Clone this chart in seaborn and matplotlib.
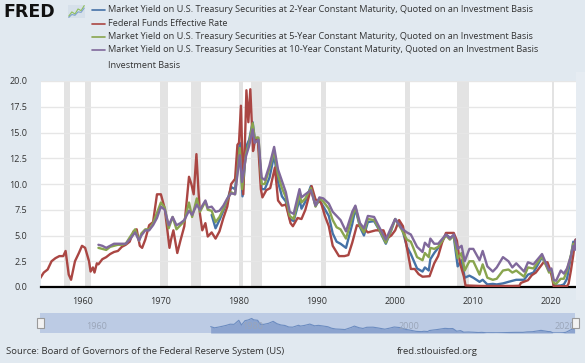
import numpy as np
import pandas as pd
import matplotlib
matplotlib.use("Agg")
import matplotlib.pyplot as plt
from matplotlib.patches import Rectangle
import seaborn as sns

# -- Data (fractional years, percent) ---------------------------
ff_years = [1954.5, 1955.0, 1955.5, 1956.0, 1956.5, 1957.0, 1957.5, 1957.8, 1958.2, 1958.5,
            1959.0, 1959.5, 1959.9, 1960.3, 1960.8, 1961.0, 1961.3, 1961.5, 1961.8, 1962.0,
            1962.5, 1963.0, 1963.5, 1964.0, 1964.5, 1965.0, 1965.5, 1966.0, 1966.5, 1966.9,
            1967.3, 1967.6, 1968.0, 1968.5, 1969.0, 1969.5, 1970.0, 1970.5, 1971.1, 1971.3,
            1971.6, 1972.1, 1972.5, 1973.0, 1973.6, 1973.9, 1974.2, 1974.55, 1974.8, 1975.0,
            1975.3, 1975.7, 1976.0, 1976.5, 1977.0, 1977.5, 1978.0, 1978.5, 1979.0, 1979.5,
            1979.8, 1980.0, 1980.25, 1980.55, 1980.8, 1980.95, 1981.2, 1981.45, 1981.8, 1982.0,
            1982.4, 1982.8, 1983.0, 1983.5, 1984.0, 1984.6, 1985.0, 1985.5, 1986.0, 1986.6,
            1986.9, 1987.5, 1988.0, 1988.5, 1989.3, 1989.8, 1990.5, 1991.0, 1991.5, 1992.0,
            1992.8, 1993.5, 1994.0, 1994.5, 1995.1, 1995.8, 1996.5, 1997.5, 1998.5, 1998.9,
            1999.5, 2000.0, 2000.5, 2001.0, 2001.5, 2002.0, 2002.5, 2003.0, 2003.5, 2004.4,
            2005.0, 2005.5, 2006.0, 2006.5, 2007.5, 2007.9, 2008.3, 2008.8, 2009.0, 2011.0,
            2013.0, 2015.0, 2015.9, 2016.1, 2017.0, 2017.5, 2018.0, 2018.5, 2019.0, 2019.5,
            2019.9, 2020.15, 2020.3, 2021.0, 2022.0, 2022.2, 2022.5, 2022.8, 2023.0, 2023.1]
ff_vals = [0.8, 1.4, 1.7, 2.5, 2.8, 3.0, 3.0, 3.5, 1.2, 0.7,
           2.5, 3.3, 4.0, 3.8, 2.5, 1.5, 1.9, 1.4, 2.3, 2.2,
           2.7, 2.9, 3.2, 3.4, 3.5, 3.9, 4.1, 4.4, 5.4, 5.6,
           4.0, 3.8, 4.6, 6.0, 6.3, 9.0, 9.0, 7.6, 3.8, 4.6,
           5.5, 3.3, 4.5, 5.9, 10.7, 10.0, 9.0, 12.9, 9.5, 7.1,
           5.5, 6.2, 4.9, 5.3, 4.7, 5.4, 6.7, 7.8, 10.0, 10.5,
           13.8, 14.0, 17.6, 9.0, 15.0, 19.1, 16.0, 19.2, 13.2, 14.0,
           14.5, 9.5, 8.7, 9.4, 9.6, 11.6, 8.4, 7.9, 8.0, 6.2,
           5.9, 6.7, 6.6, 7.5, 9.8, 8.5, 8.2, 6.9, 5.9, 4.0,
           3.0, 3.0, 3.1, 4.3, 6.0, 5.8, 5.3, 5.5, 5.5, 4.7,
           5.0, 5.5, 6.5, 5.9, 3.8, 1.75, 1.75, 1.25, 1.0, 1.05,
           2.3, 3.0, 4.3, 5.25, 5.25, 4.5, 2.3, 1.0, 0.15, 0.1,
           0.1, 0.1, 0.12, 0.4, 0.66, 1.15, 1.4, 1.9, 2.4, 2.4,
           1.55, 0.65, 0.05, 0.08, 0.08, 0.33, 1.6, 3.1, 4.3, 4.6]

t10_years = [1962.0, 1962.5, 1963.0, 1963.5, 1964.0, 1964.5, 1965.0, 1965.5, 1966.0, 1966.7,
             1967.2, 1967.5, 1968.0, 1968.5, 1969.0, 1969.5, 1970.0, 1970.5, 1971.0, 1971.5,
             1972.0, 1972.5, 1973.0, 1973.6, 1974.0, 1974.6, 1975.0, 1975.7, 1976.0, 1976.5,
             1977.0, 1977.5, 1978.0, 1978.5, 1979.0, 1979.5, 1980.1, 1980.4, 1980.9, 1981.3,
             1981.75, 1982.0, 1982.5, 1982.9, 1983.3, 1983.9, 1984.5, 1985.0, 1985.5, 1986.0,
             1986.5, 1987.0, 1987.75, 1988.0, 1988.5, 1989.2, 1989.8, 1990.3, 1990.8, 1991.5,
             1992.0, 1992.5, 1993.0, 1993.7, 1994.5, 1994.9, 1995.5, 1996.0, 1996.5, 1997.3,
             1997.9, 1998.8, 1999.5, 2000.0, 2000.8, 2001.5, 2002.0, 2002.8, 2003.5, 2003.8,
             2004.3, 2004.5, 2005.0, 2005.5, 2006.5, 2007.0, 2007.5, 2008.0, 2008.5, 2008.9,
             2009.5, 2010.0, 2010.8, 2011.2, 2011.8, 2012.5, 2013.0, 2013.8, 2014.5, 2015.0,
             2015.5, 2016.5, 2017.0, 2017.7, 2018.8, 2019.7, 2020.0, 2020.3, 2020.6, 2021.2,
             2021.6, 2022.0, 2022.5, 2022.8, 2023.0, 2023.1]
t10_vals = [4.1, 4.0, 3.8, 4.0, 4.2, 4.2, 4.2, 4.2, 4.6, 5.3,
            4.5, 5.0, 5.5, 5.5, 6.0, 6.7, 7.8, 7.5, 6.0, 6.8,
            6.0, 6.2, 6.5, 7.4, 7.0, 8.0, 7.5, 8.4, 7.7, 7.8,
            7.3, 7.4, 7.9, 8.6, 9.1, 9.0, 12.8, 10.2, 12.7, 13.7,
            15.3, 14.0, 14.3, 10.6, 10.4, 11.8, 13.6, 11.4, 10.3, 9.2,
            7.3, 7.1, 9.5, 8.7, 9.0, 9.4, 7.9, 8.7, 8.6, 8.1,
            7.3, 6.9, 6.5, 5.4, 7.3, 7.9, 6.2, 5.7, 6.9, 6.8,
            5.9, 4.6, 5.8, 6.6, 5.7, 5.3, 5.1, 3.9, 3.4, 4.3,
            3.9, 4.7, 4.2, 4.2, 5.1, 4.7, 5.1, 3.7, 4.0, 2.5,
            3.7, 3.7, 2.6, 3.5, 2.0, 1.5, 1.9, 2.9, 2.5, 1.9,
            2.3, 1.5, 2.4, 2.2, 3.2, 1.6, 1.8, 0.7, 0.6, 1.6,
            1.3, 1.8, 3.0, 4.0, 3.6, 4.5]

t5_years = t10_years
t5_vals = [3.8, 3.7, 3.6, 3.9, 4.0, 4.1, 4.1, 4.2, 4.8, 5.6,
           4.5, 5.2, 5.6, 5.6, 6.2, 7.2, 8.2, 7.7, 5.7, 6.8,
           5.6, 6.0, 6.4, 8.2, 6.8, 8.6, 7.3, 8.3, 7.5, 7.4,
           6.3, 6.8, 7.6, 8.5, 9.2, 9.0, 13.5, 9.5, 13.0, 14.0,
           15.9, 14.5, 14.5, 10.0, 10.0, 11.5, 13.2, 10.9, 9.6, 8.7,
           6.9, 6.6, 9.0, 8.2, 8.6, 9.6, 7.8, 8.6, 8.3, 7.6,
           6.5, 5.8, 5.6, 4.7, 6.8, 7.8, 5.9, 5.3, 6.6, 6.5,
           5.7, 4.3, 5.6, 6.6, 5.6, 4.6, 4.4, 2.9, 2.6, 3.3,
           2.9, 3.8, 3.7, 3.9, 5.0, 4.6, 5.0, 2.8, 3.3, 1.6,
           2.5, 2.5, 1.2, 2.2, 0.9, 0.7, 0.8, 1.6, 1.7, 1.4,
           1.6, 1.0, 1.9, 1.8, 3.0, 1.4, 1.6, 0.4, 0.3, 0.8,
           0.8, 1.6, 3.1, 4.2, 3.7, 4.2]

t2_years = [1976.5, 1977.0, 1977.5, 1978.0, 1978.5, 1979.0, 1979.5, 1980.1, 1980.45, 1980.9,
            1981.3, 1981.75, 1982.0, 1982.5, 1982.9, 1983.3, 1983.9, 1984.5, 1985.0, 1985.5,
            1986.0, 1986.5, 1987.0, 1987.75, 1988.0, 1988.5, 1989.2, 1989.8, 1990.3, 1990.8,
            1991.5, 1992.0, 1992.5, 1993.0, 1993.7, 1994.5, 1994.9, 1995.5, 1996.0, 1996.5,
            1997.3, 1997.9, 1998.8, 1999.5, 2000.0, 2000.8, 2001.5, 2002.0, 2002.8, 2003.5,
            2003.8, 2004.3, 2004.5, 2005.0, 2005.5, 2006.5, 2007.0, 2007.5, 2008.0, 2008.5,
            2008.9, 2009.5, 2010.0, 2010.8, 2011.2, 2011.8, 2012.5, 2013.0, 2013.8, 2014.5,
            2015.0, 2015.5, 2016.5, 2017.0, 2017.7, 2018.8, 2019.7, 2020.0, 2020.3, 2020.6,
            2021.2, 2021.6, 2022.0, 2022.5, 2022.8, 2023.0, 2023.1]
t2_vals = [7.0, 5.7, 6.5, 7.4, 8.4, 9.7, 9.5, 14.0, 8.8, 13.6,
           14.3, 16.0, 14.5, 14.0, 9.5, 9.5, 10.6, 12.8, 10.2, 8.8,
           8.3, 6.6, 6.4, 8.5, 7.6, 8.3, 9.8, 7.9, 8.4, 7.8,
           6.9, 5.2, 4.4, 4.2, 3.8, 6.1, 7.6, 5.8, 5.0, 6.3,
           6.4, 5.6, 4.2, 5.5, 6.6, 5.9, 3.9, 3.2, 1.8, 1.5,
           1.9, 1.6, 2.7, 3.3, 3.8, 5.1, 4.8, 4.9, 2.0, 2.6,
           0.9, 1.1, 0.9, 0.5, 0.7, 0.25, 0.3, 0.25, 0.35, 0.5,
           0.6, 0.7, 0.7, 1.2, 1.4, 2.9, 1.6, 1.5, 0.2, 0.13,
           0.15, 0.25, 0.8, 3.0, 4.4, 4.2, 4.6]

# NBER recessions (start, end)
rec_start = [1957.6, 1960.3, 1969.9, 1973.9, 1980.0, 1981.5, 1990.5, 2001.2, 2007.9, 2020.1]
rec_end   = [1958.3, 1961.1, 1970.9, 1975.2, 1980.5, 1982.9, 1991.2, 2001.9, 2009.5, 2020.3]

series_names = [
    "Market Yield on U.S. Treasury Securities at 2-Year Constant Maturity, Quoted on an Investment Basis",
    "Federal Funds Effective Rate",
    "Market Yield on U.S. Treasury Securities at 5-Year Constant Maturity, Quoted on an Investment Basis",
    "Market Yield on U.S. Treasury Securities at 10-Year Constant Maturity, Quoted on an Investment Basis",
]
series_colors = ["#4572a7", "#aa4643", "#89a54e", "#80699b"]

# -- Config -----------------------------------------------------
W, H = 585, 363
BG = "#e1e9f0"
XMIN, XMAX = 1954.65, 2023.15

sns.set_theme(style="white")
plt.rcParams["font.family"] = ["Open Sans", "DejaVu Sans"]


def fx(x):
    return x / W


def fy(y):
    return 1 - y / H


frames = []
for name, yrs, vals in [(series_names[0], t2_years, t2_vals),
                        (series_names[1], ff_years, ff_vals),
                        (series_names[2], t5_years, t5_vals),
                        (series_names[3], t10_years, t10_vals)]:
    frames.append(pd.DataFrame({"year": yrs, "value": vals, "series": name}))
df = pd.concat(frames, ignore_index=True)

fig = plt.figure(figsize=(W / 100, H / 100), dpi=100, facecolor=BG)

# main plot area
ax = fig.add_axes([fx(41), fy(287), fx(576) - fx(41), fy(81) - fy(287)])
ax.set_facecolor("white")
for s, e in zip(rec_start, rec_end):
    ax.axvspan(s, e, color="#e3e3e3", lw=0, zorder=0)
ax.set_yticks([0, 2.5, 5, 7.5, 10, 12.5, 15, 17.5, 20])
ax.set_yticklabels(["0.0", "2.5", "5.0", "7.5", "10.0", "12.5", "15.0", "17.5", "20.0"])
ax.yaxis.grid(True, color="#e6e6e6", lw=1)
ax.set_axisbelow(True)

sns.lineplot(data=df, x="year", y="value", hue="series",
             hue_order=series_names, palette=series_colors,
             lw=1.7, legend=False, ax=ax, zorder=3)

ax.set_xlim(XMIN, XMAX)
ax.set_ylim(0, 20)
ax.set_xticks([1960, 1970, 1980, 1990, 2000, 2010, 2020])
ax.set_xlabel("")
ax.set_ylabel("")
for sp in ["top", "right", "left"]:
    ax.spines[sp].set_visible(False)
ax.spines["bottom"].set_color("#000000")
ax.spines["bottom"].set_linewidth(1.6)
ax.tick_params(axis="both", length=0, labelsize=6.5, colors="#333333")
ax.tick_params(axis="y", pad=10)
ax.tick_params(axis="x", pad=7)

# lighter strip right of the plot
fig.patches.append(Rectangle((fx(576), fy(300)), fx(585) - fx(576), fy(72) - fy(300),
                             transform=fig.transFigure, color="#e6ecf2", lw=0, zorder=0))

# navigator
nav = fig.add_axes([fx(40), fy(333), fx(575) - fx(40), fy(313) - fy(333)])
nav.set_facecolor("#bccbe4")
nav.fill_between(t2_years, t2_vals, color="#8ca4cf", lw=0)
nav.plot(t2_years, t2_vals, color="#6c8cc0", lw=0.8)
nav.set_xlim(XMIN, XMAX)
nav.set_ylim(0, 22)
nav.set_xticks([])
nav.set_yticks([])
for sp in nav.spines.values():
    sp.set_visible(False)
for yr in [1960, 1980, 2000, 2020]:
    nav.text(yr + 0.5, 0.33, str(yr), transform=nav.get_xaxis_transform(),
             fontsize=6.5, color="#9aa5b8", va="center", ha="left")
for hx in [40, 575]:
    fig.patches.append(Rectangle((fx(hx - 3), fy(328)), fx(7), fy(318) - fy(328),
                                 transform=fig.transFigure, facecolor="#f2f2f2",
                                 edgecolor="#999999", lw=0.8, zorder=5))

# FRED logo
fig.text(fx(3), fy(12), "FRED", fontsize=12.5, fontweight="heavy", color="#111111",
         family="DejaVu Sans", va="center", ha="left")
icon = fig.add_axes([fx(68), fy(18), fx(17), fy(5) - fy(18)])
icon.set_facecolor("#d6e0ea")
icon.plot([0, 1, 2, 3, 4, 5], [0.5, 1.5, 1.0, 2.2, 1.8, 3.0], color="#8fbf5a", lw=0.8)
icon.plot([0, 1, 2, 3, 4, 5], [0.2, 0.9, 0.7, 1.5, 1.4, 2.4], color="#7fa3cc", lw=0.8)
icon.set_xticks([])
icon.set_yticks([])
for sp in icon.spines.values():
    sp.set_visible(False)

# legend at top
leg_y = [10, 23.5, 36.5, 50]
for name, col, y in zip(series_names, series_colors, leg_y):
    fig.add_artist(plt.Line2D([fx(92), fx(105)], [fy(y), fy(y)], color=col, lw=1.2))
    fig.text(fx(108), fy(y), name, fontsize=6.6, color="#333333", va="center", ha="left")
fig.text(fx(108), fy(65.5), "Investment Basis", fontsize=6.6, color="#333333",
         va="center", ha="left")

# footer
fig.text(fx(6), fy(352), "Source: Board of Governors of the Federal Reserve System (US)",
         fontsize=6.8, color="#333333", va="center", ha="left")
fig.text(fx(397), fy(352), "fred.stlouisfed.org", fontsize=6.8, color="#333333",
         va="center", ha="left")

plt.savefig("out.png", dpi=100, facecolor=BG)
plt.close()
